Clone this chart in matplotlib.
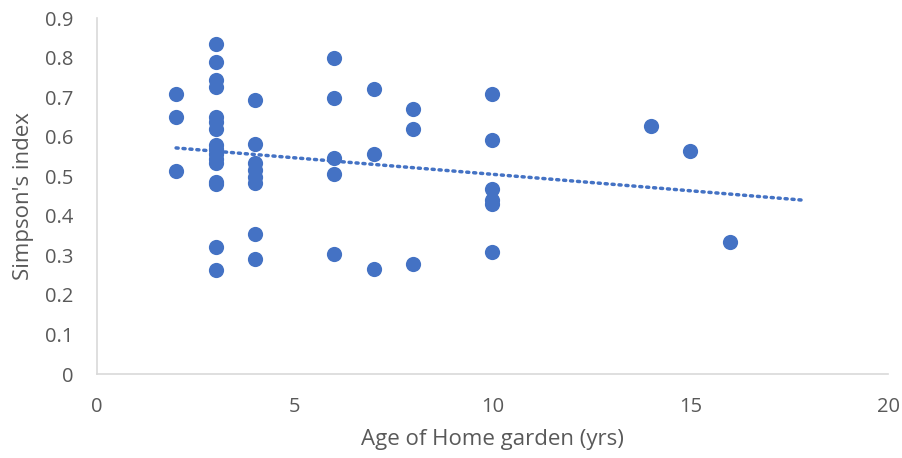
import numpy as np
import matplotlib
matplotlib.use("Agg")
import matplotlib.pyplot as plt

# Age of home garden (yrs) and Simpson's index
age = [2, 2, 2,
       3, 3, 3, 3, 3, 3, 3, 3, 3, 3, 3, 3, 3, 3, 3, 3,
       4, 4, 4, 4, 4, 4, 4, 4,
       6, 6, 6, 6, 6,
       7, 7, 7,
       8, 8, 8,
       10, 10, 10, 10, 10, 10,
       14, 15, 16]
simpson = [0.709, 0.649, 0.513,
           0.835, 0.790, 0.743, 0.727, 0.649, 0.638, 0.620, 0.579, 0.568, 0.556, 0.543, 0.534, 0.486, 0.480, 0.322, 0.262,
           0.693, 0.581, 0.533, 0.516, 0.499, 0.484, 0.353, 0.290,
           0.798, 0.697, 0.547, 0.506, 0.303,
           0.720, 0.556, 0.265,
           0.669, 0.619, 0.277,
           0.707, 0.592, 0.467, 0.440, 0.430, 0.309,
           0.627, 0.564, 0.334]
trend_x = [2, 17.9]

plt.rcParams["font.family"] = ["Open Sans", "DejaVu Sans"]

blue = "#4472C4"
grey = "#595959"

fig = plt.figure(figsize=(9.03, 4.58), dpi=100)
ax = fig.add_axes([0.1074, 0.1834, 0.876, 0.777])

ax.scatter(age, simpson, s=120, color=blue, zorder=3, linewidths=0)

# linear trendline
k, b = np.polyfit(age, simpson, 1)
tx = np.array(trend_x)
ax.plot(tx, k * tx + b - 0.003, color=blue, lw=2.5, linestyle=(0, (0.6, 1.4)),
        dash_capstyle="round", zorder=2)

ax.set_xlim(0, 20)
ax.set_ylim(0, 0.9)
ax.set_xticks([0, 5, 10, 15, 20])
ax.set_yticks(np.arange(0, 0.91, 0.1))
ax.set_yticklabels(["0"] + [f"{v:.1f}" for v in np.arange(0.1, 0.91, 0.1)])

for s in ["top", "right"]:
    ax.spines[s].set_visible(False)
for s in ["left", "bottom"]:
    ax.spines[s].set_color("#d9d9d9")
    ax.spines[s].set_linewidth(1.2)
ax.tick_params(length=0, labelsize=14.5, colors=grey)
ax.tick_params(axis="y", pad=17)
ax.tick_params(axis="x", pad=16.5)

ax.set_xlabel("Age of Home garden (yrs)", fontsize=16, color=grey, labelpad=9)
ax.set_ylabel("Simpson's index", fontsize=16, color=grey, labelpad=7.5)

fig.savefig("out.png", dpi=100)
